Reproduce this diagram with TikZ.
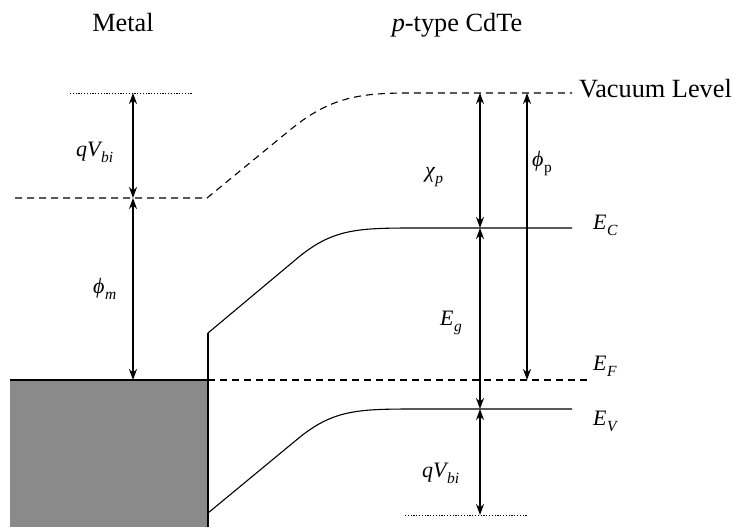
\documentclass[tikz,border=0pt]{standalone}
\usepackage{fontspec}
\setmainfont{Liberation Serif}
\usetikzlibrary{arrows.meta}
\definecolor{metalgray}{RGB}{138,138,138}
\newcommand{\sbx}[1]{\kern0.5pt\raisebox{-0.3em}{\fontsize{15.5}{16}\selectfont\itshape #1}}
\begin{document}
\begin{tikzpicture}[x=1pt,y=-1pt,
  txt/.style={font=\fontsize{26.3}{28}\selectfont, inner sep=0pt, anchor=base},
  lbl/.style={font=\fontsize{22}{24}\selectfont\itshape, inner sep=0pt, anchor=base west},
  band/.style={line width=1.1pt, line join=round},
  vac/.style={line width=1.1pt, dash pattern=on 7pt off 5pt},
  dotln/.style={line width=0.8pt, dash pattern=on 1.2pt off 1.6pt},
  dim/.style={line width=1.7pt, {Stealth[length=11pt,width=8pt]}-{Stealth[length=11pt,width=8pt]}}
]
\useasboundingbox (0,0) rectangle (738,527);
% metal block
\fill[metalgray] (10,380) rectangle (208,527);
\draw[band] (10,380) -- (208,380);
\draw[band] (208,333) -- (208,527);
% coordinates
\coordinate (mtop) at (133,93);
\coordinate (mvac) at (133,198);
\coordinate (mef) at (133,380);
\coordinate (svac) at (480,93);
\coordinate (sec) at (480,228);
\coordinate (sev) at (480,409);
\coordinate (sbot) at (480,515);
\coordinate (pvac) at (527,93);
\coordinate (pef) at (527,380);
% reference dotted lines
\draw[dotln] (70,93) -- (193,93);
\draw[dotln] (405,515) -- (527,515);
% vacuum level
\draw[vac] (15,198) -- (207,198) -- (290,130) .. controls (330,97) and (360,93) .. (410,93) -- (572,93);
% Fermi level
\draw[vac] (208,380) -- (590,380);
% conduction band
\draw[band] (208,333) -- (300,256) .. controls (335,228) and (360,228) .. (420,228) -- (572,228);
% valence band
\draw[band] (208,513) -- (300,437) .. controls (335,409) and (360,409) .. (420,409) -- (572,409);
% dimension arrows
\draw[dim] (mtop) -- (mvac);
\draw[dim] (mvac) -- (mef);
\draw[dim] (svac) -- (sec);
\draw[dim] (sec) -- (sev);
\draw[dim] (sev) -- (sbot);
\draw[dim] (pvac) -- (pef);
% labels
\node[txt] (metal) at (123,32) {Metal};
\node[txt] (cdte) at (457,32) {\textit{p}-type CdTe};
\node[txt, anchor=base west] (vaclevel) at (579,97) {Vacuum Level};
\node[lbl] (qvt) at (76,156) {qV\sbx{bi}};
\node[lbl] (phim) at (93,293) {ϕ\sbx{m}};
\node[lbl] (chip) at (425,177) {χ\sbx{p}};
\node[lbl] (phip) at (532,166) {ϕ\sbx{\upshape p}};
\node[lbl] (eg) at (440,325) {E\sbx{g}};
\node[lbl] (qvb) at (422,477) {qV\sbx{bi}};
\node[lbl] (ec) at (593,229) {E\sbx{C}};
\node[lbl] (ef) at (593,370) {E\sbx{F}};
\node[lbl] (ev) at (593,425) {E\sbx{V}};
\end{tikzpicture}
\end{document}
